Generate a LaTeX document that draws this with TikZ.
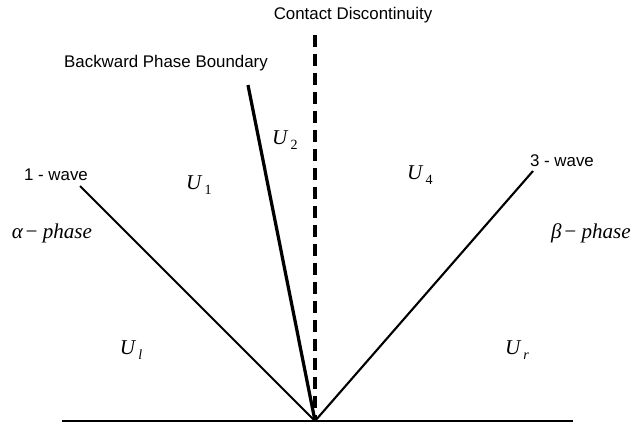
\documentclass[tikz,border=0pt]{standalone}
\usepackage{fontspec}
\setmainfont{Liberation Sans}
\newfontfamily\timesfont{Liberation Serif}
\usetikzlibrary{positioning}

% region label: italic U with a lowered index
\newcommand{\regionU}[1]{\textit{U}\kern1.5pt\raisebox{-3.5pt}{\fontsize{10}{12}\selectfont #1}}

\begin{document}
\begin{tikzpicture}[x=0.025cm, y=-0.025cm,
    wave/.style={line width=1.5pt},
    boundary/.style={line width=2.3pt},
    contact/.style={line width=2.2pt, dash pattern=on 8.5pt off 5pt},
    caption/.style={font=\fontsize{12}{14}\selectfont, inner sep=0pt},
    region/.style={font=\timesfont\fontsize{15}{18}\selectfont, inner sep=0pt}]
    \useasboundingbox (0,0) rectangle (633,423);

    % Points
    \coordinate (o) at (315,421);
    \coordinate (left) at (62,421);
    \coordinate (right) at (573,421);
    \coordinate (w1) at (80,186);
    \coordinate (w3) at (533,171);
    \coordinate (pb) at (248,85);
    \coordinate (cd) at (315,35);

    % Labels
    \node[caption] (cdlabel) at (353,15) {Contact Discontinuity};
    \node[caption] (pblabel) at (166,63) {Backward Phase Boundary};
    \node[caption] (w1label) at (56,175) {1 - wave};
    \node[caption] (w3label) at (562,161) {3 - wave};
    \node[region] (alpha) at (52,233) {\textit{α\kern1pt−\kern3pt phase}};
    \node[region] (beta) at (591,233) {\textit{β\kern1pt−\kern3pt phase}};
    \node[region] (u1) at (199,185) {\regionU{1}};
    \node[region] (u2) at (285,140) {\regionU{2}};
    \node[region] (u4) at (420,175) {\regionU{4}};
    \node[region] (ul) at (131,350) {\regionU{\textit{l}}};
    \node[region] (ur) at (517,350) {\regionU{\textit{r}}};

    % Edges
    \draw[line width=2pt] (left) -- (right);
    \draw[wave] (w1) -- (o);
    \draw[wave] (w3) -- (o);
    \draw[contact] (cd) -- (o);
    \draw[boundary] (pb) -- (o);
\end{tikzpicture}
\end{document}
